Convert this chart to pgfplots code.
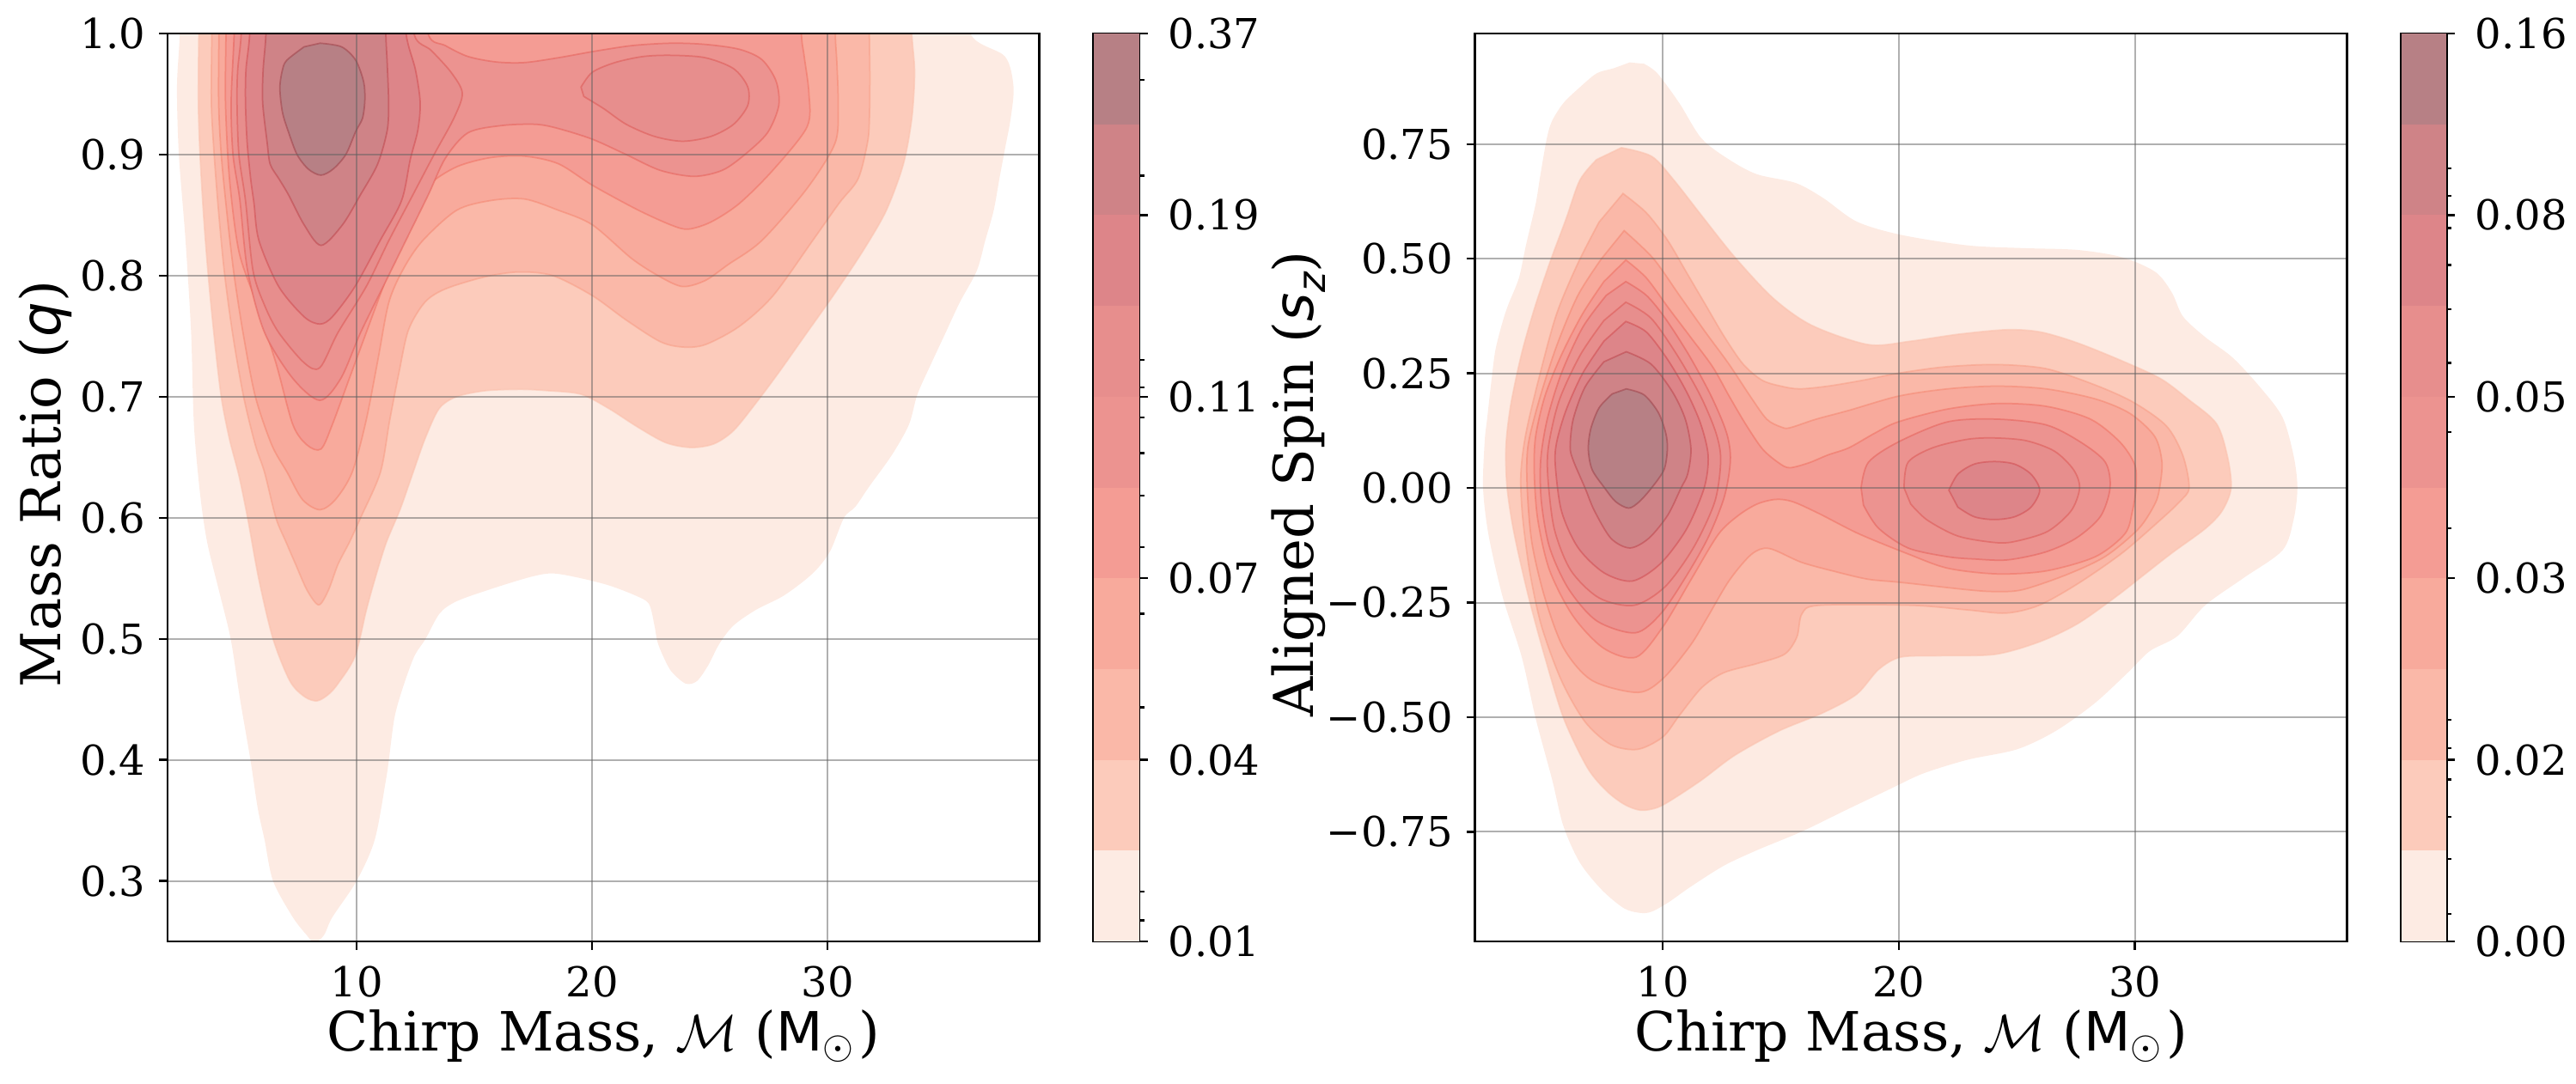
\documentclass[border=0pt]{standalone}
\usepackage{pgfplots}
\pgfplotsset{compat=1.18}
\usepackage{fontspec}
\setmainfont{DejaVu Serif}
\newfontfamily\dvs{DejaVu Sans}
\newcommand\tickfont{\fontsize{9.6pt}{11pt}\selectfont}
\newcommand\labfont{\fontsize{12.6pt}{15pt}\selectfont}
\definecolor{b0}{RGB}{253,235,227}
\definecolor{b1}{RGB}{252,203,187}
\definecolor{b2}{RGB}{250,184,168}
\definecolor{b3}{RGB}{248,170,156}
\definecolor{b4}{RGB}{244,156,148}
\definecolor{b5}{RGB}{236,147,144}
\definecolor{b6}{RGB}{231,142,141}
\definecolor{b7}{RGB}{221,133,137}
\definecolor{b8}{RGB}{207,131,135}
\definecolor{b9}{RGB}{183,128,133}
\definecolor{e0}{RGB}{253,235,227}
\definecolor{e1}{RGB}{251,193,173}
\definecolor{e2}{RGB}{248,158,134}
\definecolor{e3}{RGB}{245,134,112}
\definecolor{e4}{RGB}{240,113,98}
\definecolor{e5}{RGB}{230,97,90}
\definecolor{e6}{RGB}{221,88,85}
\definecolor{e7}{RGB}{209,76,80}
\definecolor{e8}{RGB}{190,70,76}
\definecolor{e9}{RGB}{159,66,73}
\definecolor{gridc}{RGB}{97,97,97}
\pgfplotsset{
  kde/.style={scale only axis, height=211.4pt, anchor=south west, axis on top,
    tick align=outside, xtick pos=left, ytick pos=left, major tick length=1.9pt,
    tick style={black, line width=0.45pt}, axis line style={line width=0.5pt},
    grid=major, major grid style={line width=0.4pt, color=gridc, opacity=0.5},
    ticklabel style={font=\tickfont, inner sep=0pt},
    xticklabel style={yshift=-3.6pt}, yticklabel style={xshift=-3.0pt},
    xtick={10,20,30}, xticklabels={10,20,30}},
  lev/.style={smooth, tension=0.5, line width=0.35pt, draw opacity=0.55, fill=b#1, draw=e#1},
  lev0/.style={smooth, tension=0.5, fill=b0, draw=none},
  cbar/.style={scale only axis, height=211.4pt, anchor=south west,
    xmin=0, xmax=1, ymin=0, ymax=10, xtick=\empty, ytick={0,2,4,6,8,10},
    ytick pos=right, yticklabel pos=right, tick align=outside,
    major tick length=1.9pt, minor tick length=1.1pt,
    tick style={black, line width=0.45pt}, axis line style={line width=0.5pt},
    yticklabel style={font=\tickfont, inner sep=0pt, anchor=west, xshift=4.6pt}},
  band/.style={fill=b#1, draw=none}
}
\begin{document}
\begin{tikzpicture}
\path[use as bounding box] (0,0) rectangle (599.6pt,252.2pt);
% ---------------- left panel ----------------
\begin{axis}[kde, at={(39pt,33pt)}, width=202.94pt,
  xmin=1.97, xmax=39.0, ymin=0.25, ymax=1.0,
  ytick={0.3,0.4,0.5,0.6,0.7,0.8,0.9,1.0},
  yticklabels={0.3,0.4,0.5,0.6,0.7,0.8,0.9,1.0}]
\addplot[lev0] coordinates {(2.5,1.05) (2.49,1.0) (2.37,0.956) (2.45,0.9) (2.73,0.83) (2.97,0.753) (3.09,0.677) (3.35,0.62) (3.65,0.58) (4.15,0.54) (4.65,0.5) (5.05,0.45) (5.49,0.4) (5.8,0.36) (6.09,0.334) (6.45,0.3) (7.29,0.27) (7.89,0.255) (8.2,0.249) (8.61,0.255) (8.97,0.27) (10.0,0.3) (10.77,0.334) (11.25,0.384) (11.37,0.4) (11.61,0.435) (11.97,0.46) (12.45,0.4855) (12.93,0.5) (13.53,0.521) (14.25,0.531) (15.69,0.541) (17.37,0.551) (18.33,0.554) (19.53,0.550) (20.73,0.544) (21.81,0.536) (22.41,0.529) (22.65,0.511) (22.77,0.498) (23.01,0.486) (23.37,0.473) (23.97,0.463) (24.45,0.465) (24.93,0.478) (25.41,0.496) (26.01,0.511) (26.97,0.524) (28.17,0.536) (29.37,0.554) (30.10,0.572) (30.70,0.600) (31.18,0.609) (31.78,0.626) (32.74,0.652) (33.46,0.677) (33.82,0.702) (34.42,0.728) (35.02,0.753) (35.62,0.778) (36.34,0.804) (36.70,0.829) (37.06,0.854) (37.30,0.880) (37.54,0.905) (37.78,0.930) (37.90,0.956) (37.54,0.981) (36.10,0.999) (35.8,1.05)} -- cycle;
\addplot[lev=1] coordinates {(3.35,1.05) (3.3,1.0) (3.28,0.943) (3.35,0.9) (3.5,0.85) (3.7,0.8) (3.95,0.75) (4.25,0.70) (4.6,0.665) (5.0,0.635) (5.37,0.6) (5.85,0.549) (6.45,0.5) (7.17,0.465) (7.8,0.452) (8.32,0.4487) (8.8,0.454) (9.21,0.463) (9.93,0.4855) (10.41,0.5235) (10.77,0.5488) (11.25,0.579) (11.85,0.607) (12.4,0.6375) (12.9,0.665) (13.5,0.69) (14.25,0.70) (15.5,0.705) (17.0,0.706) (18.09,0.705) (19.53,0.702) (20.73,0.690) (21.93,0.675) (23.13,0.662) (24.21,0.658) (25.17,0.661) (26.01,0.672) (26.97,0.695) (27.93,0.720) (29.13,0.753) (30.33,0.786) (31.54,0.8215) (32.50,0.854) (33.22,0.892) (33.58,0.930) (33.70,0.968) (33.58,1.0) (33.5,1.05)} -- cycle;
\addplot[lev=2] coordinates {(3.85,1.05) (3.85,1.0) (3.83,0.943) (3.95,0.9) (4.15,0.85) (4.4,0.8) (4.75,0.75) (5.2,0.70) (5.7,0.66) (6.09,0.6375) (6.57,0.6) (7.0,0.58) (7.41,0.5615) (7.9,0.54) (8.39,0.528) (8.8,0.54) (9.21,0.5615) (9.7,0.58) (10.17,0.6) (11.01,0.6375) (11.4,0.68) (11.8,0.72) (12.2,0.755) (12.9,0.778) (13.77,0.789) (15.45,0.799) (16.89,0.803) (18.33,0.800) (20.01,0.7835) (21.45,0.7633) (22.89,0.7455) (23.85,0.741) (24.81,0.743) (26.25,0.758) (27.69,0.7835) (29.37,0.829) (30.5,0.86) (31.30,0.880) (31.7,0.91) (31.78,0.930) (31.8,0.965) (31.78,1.0) (31.8,1.05)} -- cycle;
\addplot[lev=3] coordinates {(4.15,1.05) (4.15,1.0) (4.14,0.943) (4.25,0.9) (4.5,0.85) (4.8,0.8) (5.2,0.75) (5.7,0.70) (6.4,0.66) (7.05,0.6375) (7.7,0.615) (8.44,0.6066) (9.1,0.615) (9.81,0.6375) (10.4,0.68) (10.9,0.73) (11.37,0.778) (12.0,0.806) (12.81,0.829) (14.25,0.854) (15.69,0.862) (17.13,0.8633) (18.57,0.854) (20.01,0.842) (21.69,0.814) (22.89,0.799) (23.85,0.791) (24.81,0.796) (25.77,0.809) (27.21,0.829) (29.13,0.872) (30.33,0.910) (30.45,0.943) (30.4,0.975) (30.33,1.0) (30.3,1.05)} -- cycle;
\addplot[lev=4] coordinates {(4.45,1.05) (4.45,1.0) (4.43,0.943) (4.6,0.88) (5.0,0.82) (5.73,0.778) (6.57,0.728) (7.29,0.677) (7.9,0.66) (8.49,0.6568) (8.97,0.677) (9.69,0.715) (10.41,0.753) (11.13,0.791) (11.85,0.829) (12.45,0.854) (13.05,0.8747) (14.25,0.8899) (15.69,0.8975) (17.13,0.8987) (18.57,0.8924) (20.01,0.8747) (21.93,0.8544) (23.37,0.8417) (24.09,0.8384) (25.05,0.8443) (26.25,0.8595) (27.69,0.8873) (29.13,0.9228) (29.21,0.9507) (29.01,0.9811) (28.89,1.0) (28.85,1.05)} -- cycle;
\addplot[lev=5] coordinates {(4.85,1.05) (4.8,1.0) (4.67,0.943) (4.75,0.90) (5.04,0.8626) (5.37,0.804) (6.09,0.753) (7.29,0.7151) (8.44,0.697) (9.33,0.7151) (10.17,0.753) (11.13,0.791) (12.09,0.829) (13.05,0.867) (13.77,0.897) (14.73,0.918) (16.17,0.924) (17.61,0.925) (18.57,0.9215) (20.01,0.9127) (21.45,0.90) (22.89,0.887) (24.33,0.882) (25.53,0.887) (26.49,0.90) (27.45,0.918) (27.93,0.9405) (27.81,0.961) (27.21,0.9785) (26.25,0.987) (24.81,0.991) (23.37,0.992) (21.69,0.990) (20.01,0.985) (18.57,0.980) (17.13,0.976) (15.93,0.9765) (14.73,0.981) (13.77,0.990) (13.05,0.999) (12.7,1.05)} -- cycle;
\addplot[lev=6] coordinates {(5.15,1.05) (5.1,1.0) (4.95,0.97) (4.92,0.943) (5.0,0.90) (5.28,0.862) (5.6,0.804) (6.1,0.775) (6.69,0.753) (7.77,0.728) (8.44,0.724) (9.21,0.753) (10.41,0.791) (11.37,0.829) (12.33,0.8645) (13.29,0.90) (14.13,0.93) (14.49,0.9507) (14.01,0.968) (13.17,0.986) (12.45,0.999) (12.3,1.05)} -- cycle;
\addplot[lev=6] coordinates {(19.53,0.9557) (20.01,0.968) (20.97,0.976) (22.17,0.981) (23.37,0.982) (24.81,0.980) (26.01,0.971) (26.61,0.956) (26.61,0.9405) (26.01,0.925) (25.05,0.915) (23.85,0.911) (22.65,0.915) (21.45,0.925) (20.49,0.938) (19.65,0.948)} -- cycle;
\addplot[lev=7] coordinates {(5.5,1.05) (5.46,1.0) (5.3,0.97) (5.28,0.943) (5.35,0.91) (5.5,0.88) (5.64,0.86) (5.85,0.829) (6.69,0.791) (7.77,0.766) (8.44,0.760) (8.97,0.766) (9.93,0.791) (11.0,0.829) (11.91,0.862) (12.28,0.896) (12.6,0.92) (12.70,0.943) (12.5,0.97) (12.1,1.0) (12.0,1.05)} -- cycle;
\addplot[lev=8] coordinates {(6.2,1.05) (6.15,1.0) (6.03,0.97) (6.01,0.943) (6.2,0.91) (6.33,0.892) (6.7,0.88) (7.1,0.867) (7.77,0.842) (8.49,0.825) (9.40,0.842) (10.17,0.867) (10.89,0.892) (11.3,0.92) (11.36,0.943) (11.3,0.975) (11.24,1.0) (11.2,1.05)} -- cycle;
\addplot[lev=9] coordinates {(8.45,0.992) (9.36,0.989) (9.96,0.978) (10.3,0.96) (10.35,0.945) (10.25,0.93) (9.96,0.919) (9.54,0.90) (9.0,0.888) (8.48,0.883) (7.95,0.888) (7.47,0.90) (7.1,0.919) (6.85,0.935) (6.74,0.955) (6.85,0.97) (7.04,0.978) (7.77,0.989)} -- cycle;
\end{axis}
% ---------------- left colourbar ----------------
\begin{axis}[cbar, at={(254.54pt,33pt)}, width=10.66pt,
  yticklabels={0.01,0.04,0.07,0.11,0.19,0.37},
  minor ytick={0.233,0.546,2.577,3.609,4.341,4.907,5.379,5.772,6.099,6.405,8.435,9.487}]
\addplot[band=0] coordinates {(0,0) (1,0) (1,1) (0,1)} -- cycle;
\addplot[band=1] coordinates {(0,1) (1,1) (1,2) (0,2)} -- cycle;
\addplot[band=2] coordinates {(0,2) (1,2) (1,3) (0,3)} -- cycle;
\addplot[band=3] coordinates {(0,3) (1,3) (1,4) (0,4)} -- cycle;
\addplot[band=4] coordinates {(0,4) (1,4) (1,5) (0,5)} -- cycle;
\addplot[band=5] coordinates {(0,5) (1,5) (1,6) (0,6)} -- cycle;
\addplot[band=6] coordinates {(0,6) (1,6) (1,7) (0,7)} -- cycle;
\addplot[band=7] coordinates {(0,7) (1,7) (1,8) (0,8)} -- cycle;
\addplot[band=8] coordinates {(0,8) (1,8) (1,9) (0,9)} -- cycle;
\addplot[band=9] coordinates {(0,9) (1,9) (1,10) (0,10)} -- cycle;
\end{axis}
% ---------------- right panel ----------------
\begin{axis}[kde, at={(343.28pt,33pt)}, width=203.06pt,
  xmin=2.03, xmax=39.0, ymin=-0.989, ymax=0.991,
  ytick={-0.75,-0.5,-0.25,0,0.25,0.5,0.75},
  yticklabels={−0.75,−0.50,−0.25,0.00,0.25,0.50,0.75}]
\addplot[lev0] coordinates {(8.59,0.928) (7.9,0.915) (7.19,0.904) (6.4,0.87) (5.78,0.839) (5.3,0.8) (5.08,0.762) (4.8,0.68) (4.61,0.620) (4.2,0.53) (3.90,0.458) (3.45,0.40) (3.20,0.361) (2.9,0.3) (2.73,0.232) (2.55,0.15) (2.45,0.103) (2.38,0.0) (2.61,-0.102) (3.20,-0.236) (4.02,-0.369) (4.61,-0.503) (5.31,-0.637) (5.78,-0.737) (6.48,-0.817) (7.42,-0.877) (8.36,-0.917) (9.06,-0.927) (9.53,-0.924) (10.23,-0.904) (11.17,-0.870) (12.58,-0.824) (13.99,-0.790) (15.86,-0.750) (17.74,-0.703) (19.61,-0.657) (21.02,-0.623) (22.90,-0.593) (25.01,-0.570) (26.65,-0.530) (28.29,-0.470) (29.70,-0.403) (30.63,-0.356) (31.81,-0.323) (32.98,-0.256) (34.62,-0.196) (36.26,-0.136) (36.73,-0.069) (36.89,0.0) (36.73,0.070) (36.26,0.154) (35.32,0.219) (34.15,0.284) (32.98,0.329) (32.04,0.374) (31.57,0.426) (30.87,0.471) (29.46,0.503) (27.58,0.519) (25.24,0.523) (22.90,0.529) (20.08,0.552) (18.21,0.581) (16.80,0.632) (15.63,0.665) (13.99,0.684) (12.81,0.716) (11.64,0.762) (10.70,0.839) (9.77,0.904) (9.2,0.925)} -- cycle;
\addplot[lev=1] coordinates {(8.24,0.742) (9.53,0.723) (10.47,0.671) (11.64,0.594) (13.05,0.503) (14.69,0.413) (16.33,0.354) (18.71,0.3125) (20.5,0.32) (22.5,0.335) (24.57,0.345) (26.0,0.34) (27.58,0.316) (29.46,0.277) (31.10,0.238) (32.27,0.193) (33.45,0.141) (33.92,0.070) (34.08,0.0) (33.7,-0.05) (32.98,-0.089) (31.57,-0.142) (30.40,-0.189) (29.23,-0.236) (27.58,-0.296) (25.94,-0.336) (24.07,-0.363) (21.72,-0.366) (20.08,-0.369) (19.14,-0.396) (18.21,-0.450) (16.80,-0.490) (14.92,-0.530) (13.05,-0.583) (11.64,-0.637) (10.47,-0.677) (9.77,-0.697) (9.06,-0.703) (8.36,-0.690) (7.6,-0.66) (6.8,-0.610) (5.8,-0.503) (5.0,-0.369) (4.3,-0.236) (3.7,-0.1) (3.4,0.0) (3.35,0.09) (3.55,0.18) (4.0,0.29) (4.55,0.39) (5.2,0.49) (5.90,0.587) (6.48,0.671) (7.19,0.716)} -- cycle;
\addplot[lev=2] coordinates {(8.31,0.642) (9.3,0.60) (10.2,0.54) (11.0,0.47) (11.8,0.40) (12.6,0.33) (13.4,0.27) (14.2,0.235) (15.0,0.222) (15.79,0.216) (17.0,0.222) (18.5,0.235) (19.97,0.25) (21.96,0.264) (24.15,0.269) (26.24,0.26) (28.29,0.225) (29.93,0.187) (31.34,0.135) (32.04,0.070) (32.30,0.0) (31.9,-0.03) (31.10,-0.069) (29.46,-0.142) (27.58,-0.209) (25.94,-0.256) (24.54,-0.273) (22.90,-0.266) (20.55,-0.256) (16.62,-0.256) (15.89,-0.275) (15.68,-0.325) (15.16,-0.3625) (13.99,-0.383) (12.58,-0.403) (11.64,-0.436) (10.70,-0.496) (10.0,-0.543) (8.94,-0.570) (7.8,-0.56) (6.7,-0.51) (5.7,-0.42) (4.85,-0.3) (4.35,-0.18) (4.05,-0.06) (3.98,0.03) (4.2,0.12) (4.8,0.25) (5.5,0.38) (6.4,0.49) (7.3,0.58)} -- cycle;
\addplot[lev=3] coordinates {(8.36,0.561) (9.6,0.50) (10.7,0.42) (11.8,0.34) (12.8,0.27) (13.7,0.20) (14.4,0.15) (15.0,0.133) (15.37,0.131) (16.5,0.15) (17.88,0.169) (19.97,0.2) (22.06,0.216) (24.15,0.222) (26.24,0.216) (28.33,0.194) (29.79,0.1625) (30.84,0.1125) (31.15,0.056) (31.05,0.0) (30.85,-0.035) (30.16,-0.089) (28.76,-0.149) (27.12,-0.189) (25.24,-0.222) (24.07,-0.226) (22.90,-0.222) (20.08,-0.206) (18.68,-0.199) (17.27,-0.182) (15.86,-0.162) (14.5,-0.132) (13.75,-0.145) (12.81,-0.202) (11.88,-0.283) (11.17,-0.343) (10.0,-0.416) (8.94,-0.446) (7.0,-0.42) (5.8,-0.35) (5.0,-0.24) (4.45,-0.12) (4.25,0.0) (4.28,0.09) (4.75,0.19) (5.5,0.31) (6.4,0.42) (7.4,0.50)} -- cycle;
\addplot[lev=4] coordinates {(8.43,0.497) (9.30,0.458) (10.23,0.393) (11.17,0.329) (12.11,0.264) (12.81,0.200) (13.52,0.138) (14.22,0.085) (14.9,0.055) (15.37,0.044) (16.2,0.055) (17.0,0.072) (17.88,0.0875) (19.0,0.12) (19.97,0.144) (22.06,0.172) (24.15,0.184) (26.24,0.178) (28.12,0.15) (29.37,0.1) (30.0,0.05) (30.05,0.0) (29.9,-0.05) (29.58,-0.1) (28.33,-0.15) (26.24,-0.181) (24.15,-0.1875) (22.06,-0.175) (20.39,-0.144) (18.3,-0.1) (16.62,-0.056) (15.5,-0.03) (14.79,-0.025) (14.0,-0.035) (13.2,-0.06) (12.34,-0.102) (11.17,-0.202) (10.0,-0.303) (8.87,-0.369) (7.5,-0.35) (6.2,-0.28) (5.2,-0.18) (4.7,-0.07) (4.55,0.03) (4.6,0.11) (5.0,0.20) (5.7,0.29) (6.6,0.38) (7.5,0.45)} -- cycle;
\addplot[lev=5] coordinates {(8.43,0.450) (9.3,0.42) (10.1,0.37) (11.1,0.29) (12.05,0.2) (12.7,0.12) (12.86,0.06) (12.6,-0.02) (11.9,-0.11) (10.9,-0.2) (9.9,-0.275) (8.83,-0.316) (7.2,-0.29) (6.0,-0.22) (5.2,-0.13) (4.85,-0.03) (4.82,0.06) (5.1,0.15) (5.7,0.25) (6.6,0.35) (7.6,0.42)} -- cycle;
\addplot[lev=5] coordinates {(18.4,0.0) (18.71,0.056) (19.97,0.1) (22.06,0.144) (24.15,0.15) (26.24,0.1375) (27.70,0.1) (28.75,0.056) (28.95,0.0) (28.54,-0.0625) (27.5,-0.11) (26.2,-0.14) (24.6,-0.157) (23.2,-0.155) (22.06,-0.15) (20.39,-0.131) (19.13,-0.0875) (18.5,-0.0375)} -- cycle;
\addplot[lev=6] coordinates {(8.43,0.405) (9.5,0.37) (10.6,0.29) (11.6,0.20) (12.25,0.12) (12.45,0.06) (12.2,-0.03) (11.3,-0.13) (10.1,-0.215) (8.78,-0.256) (7.3,-0.24) (6.1,-0.18) (5.4,-0.09) (5.13,0.02) (5.15,0.09) (5.6,0.19) (6.5,0.29) (7.5,0.365)} -- cycle;
\addplot[lev=6] coordinates {(20.22,0.0) (20.39,0.056) (21.43,0.0875) (22.9,0.106) (24.05,0.109) (25.4,0.103) (26.6,0.08) (27.4,0.04) (27.66,0.0) (27.3,-0.05) (26.3,-0.095) (24.9,-0.117) (24.05,-0.119) (22.5,-0.105) (21.2,-0.07) (20.5,-0.035)} -- cycle;
\addplot[lev=7] coordinates {(8.43,0.363) (9.3,0.34) (10.2,0.28) (11.0,0.21) (11.6,0.14) (11.92,0.07) (11.75,0.0) (11.0,-0.09) (9.9,-0.165) (8.71,-0.203) (7.5,-0.185) (6.4,-0.13) (5.7,-0.05) (5.44,0.05) (5.5,0.10) (5.9,0.17) (6.6,0.25) (7.5,0.32)} -- cycle;
\addplot[lev=7] coordinates {(22.12,-0.005) (22.5,0.03) (23.2,0.052) (24.05,0.0575) (24.9,0.052) (25.6,0.03) (25.97,-0.005) (25.6,-0.042) (24.9,-0.063) (24.05,-0.069) (23.2,-0.063) (22.5,-0.042)} -- cycle;
\addplot[lev=8] coordinates {(8.45,0.297) (9.5,0.27) (10.4,0.21) (10.95,0.15) (11.19,0.085) (11.05,0.03) (10.77,0.0) (10.2,-0.06) (9.4,-0.11) (8.6,-0.131) (7.8,-0.11) (7.1,-0.05) (6.7,0.0) (6.2,0.06) (6.07,0.09) (6.2,0.15) (6.7,0.22) (7.5,0.275)} -- cycle;
\addplot[lev=9] coordinates {(8.45,0.216) (9.2,0.203) (9.8,0.165) (10.12,0.12) (10.19,0.085) (10.05,0.04) (9.52,0.0) (9.0,-0.03) (8.55,-0.044) (8.0,-0.03) (7.53,0.0) (7.0,0.04) (6.84,0.085) (6.95,0.13) (7.3,0.175) (7.85,0.205)} -- cycle;
\end{axis}
% ---------------- right colourbar ----------------
\begin{axis}[cbar, at={(558.94pt,33pt)}, width=10.52pt,
  yticklabels={0.00,0.02,0.03,0.05,0.08,0.16},
  minor ytick={0.306,0.905,1.371,1.784,2.130,2.443,4.554,5.613,6.372,6.964,7.450,7.856,8.209,8.515}]
\addplot[band=0] coordinates {(0,0) (1,0) (1,1) (0,1)} -- cycle;
\addplot[band=1] coordinates {(0,1) (1,1) (1,2) (0,2)} -- cycle;
\addplot[band=2] coordinates {(0,2) (1,2) (1,3) (0,3)} -- cycle;
\addplot[band=3] coordinates {(0,3) (1,3) (1,4) (0,4)} -- cycle;
\addplot[band=4] coordinates {(0,4) (1,4) (1,5) (0,5)} -- cycle;
\addplot[band=5] coordinates {(0,5) (1,5) (1,6) (0,6)} -- cycle;
\addplot[band=6] coordinates {(0,6) (1,6) (1,7) (0,7)} -- cycle;
\addplot[band=7] coordinates {(0,7) (1,7) (1,8) (0,8)} -- cycle;
\addplot[band=8] coordinates {(0,8) (1,8) (1,9) (0,9)} -- cycle;
\addplot[band=9] coordinates {(0,9) (1,9) (1,10) (0,10)} -- cycle;
\end{axis}
% ---------------- axis labels ----------------
\node[anchor=base, font=\labfont, inner sep=0pt] at (140.47pt,7.48pt) {Chirp Mass, $\mathcal{M}$ ({\dvs M}$_{\odot}$\kern0.6pt)};
\node[anchor=base, font=\labfont, inner sep=0pt] at (444.81pt,7.48pt) {Chirp Mass, $\mathcal{M}$ ({\dvs M}$_{\odot}$\kern0.6pt)};
\node[anchor=base, rotate=90, font=\fontsize{12.8pt}{15pt}\selectfont, inner sep=0pt] at (14pt,139.5pt) {Mass Ratio ({\dvs\itshape q})};
\node[anchor=base, rotate=90, font=\fontsize{12.8pt}{15pt}\selectfont, inner sep=0pt] at (305.6pt,139.5pt) {Aligned Spin ({\dvs\itshape s\raisebox{-0.22em}{\fontsize{9pt}{9pt}\selectfont z}})};
\end{tikzpicture}
\end{document}
